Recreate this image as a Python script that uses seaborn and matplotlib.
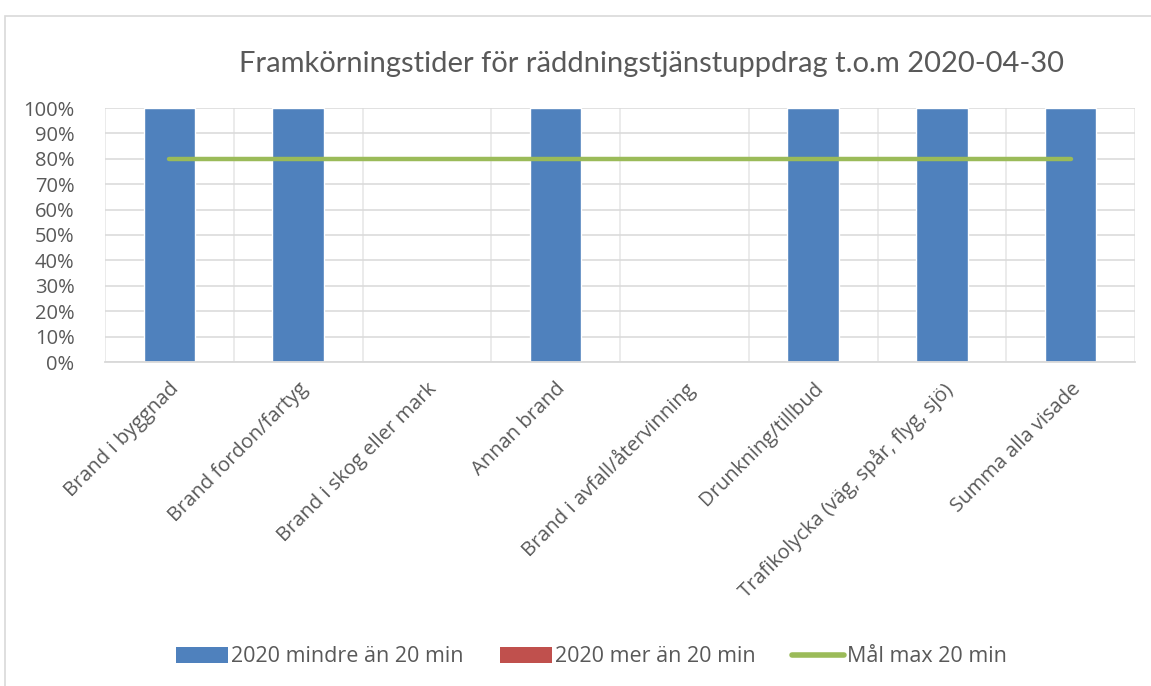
import matplotlib
matplotlib.use('Agg')
import matplotlib.pyplot as plt
import seaborn as sns
import numpy as np
import pandas as pd
from matplotlib.patches import Patch, Rectangle
from matplotlib.lines import Line2D
from matplotlib.ticker import PercentFormatter

# Data
categories = ['Brand i byggnad', 'Brand fordon/fartyg', 'Brand i skog eller mark',
              'Annan brand', 'Brand i avfall/återvinning', 'Drunkning/tillbud',
              'Trafikolycka (väg, spår, flyg, sjö)', 'Summa alla visade']
under_20 = [1.0, 1.0, 0.0, 1.0, 0.0, 1.0, 1.0, 1.0]
over_20 = [0.0, 0.0, 0.0, 0.0, 0.0, 0.0, 0.0, 0.0]
target = [0.8, 0.8, 0.8, 0.8, 0.8, 0.8, 0.8, 0.8]
series_names = ['2020 mindre än 20 min', '2020 mer än 20 min', 'Mål max 20 min']

blue = '#4F81BD'
red = '#C0504D'
green = '#9BBB59'
text_col = '#595959'

sns.set_theme(style='white')
plt.rcParams['font.family'] = ['Open Sans', 'DejaVu Sans']

fig = plt.figure(figsize=(11.51, 6.86), dpi=100)
ax = fig.add_axes([105 / 1151, 1 - 362 / 686, 1030 / 1151, 254 / 686])

# outer chart border
fig.patches.append(Rectangle((5 / 1151, -0.01), 1.0, 1 - 16 / 686 + 0.01,
                             transform=fig.transFigure, fill=False,
                             edgecolor='#D9D9D9', linewidth=1.2, zorder=0))

df = pd.DataFrame({'cat': categories, 'under': under_20, 'over': over_20, 'target': target})

sns.barplot(data=df, x='cat', y='under', color=blue, width=0.40, saturation=1,
            ax=ax, zorder=2)
sns.barplot(data=df, x='cat', y='over', color=red, width=0.40, saturation=1,
            ax=ax, zorder=2)
sns.lineplot(x=np.arange(len(categories)), y=df['target'], color=green,
             linewidth=3.2, solid_capstyle='round', ax=ax, zorder=3)

ax.set_xlim(-0.5, len(categories) - 0.5)
ax.set_ylim(0, 1)
ax.set_yticks(np.arange(0, 1.01, 0.1))
ax.yaxis.set_major_formatter(PercentFormatter(1.0, decimals=0))
ax.set_xlabel('')
ax.set_ylabel('')

# gridlines
ax.set_xticks(np.arange(-0.5, len(categories), 1.0), minor=True)
ax.grid(True, axis='y', which='major', color='#D9D9D9', linewidth=1.1, zorder=0)
ax.grid(True, axis='x', which='minor', color='#E6E6E6', linewidth=1.1, zorder=0)
ax.grid(False, axis='x', which='major')
ax.set_axisbelow(True)

for s in ['top', 'right', 'left']:
    ax.spines[s].set_visible(False)
ax.spines['bottom'].set_color('#D9D9D9')
ax.spines['bottom'].set_linewidth(1.3)

ax.tick_params(axis='both', which='both', length=0)
ax.tick_params(axis='y', labelsize=14.5, labelcolor=text_col, pad=22)
ax.set_xticks(np.arange(len(categories)))
ax.set_xticklabels(categories, rotation=45, ha='right', rotation_mode='anchor',
                   fontsize=14.5, color=text_col)
ax.tick_params(axis='x', pad=12)

fig.text(0.566, 1 - 64 / 686, 'Framkörningstider för räddningstjänstuppdrag t.o.m 2020-04-30',
         ha='center', va='center', fontsize=21, color=text_col, family=['Lato', 'DejaVu Sans'])

handles = [Patch(facecolor=blue, edgecolor='none'),
           Patch(facecolor=red, edgecolor='none'),
           Line2D([0], [0], color=green, linewidth=4, solid_capstyle='round')]
fig.legend(handles, series_names, loc='center', bbox_to_anchor=(0.514, 1 - 657 / 686),
           ncol=3, frameon=False, fontsize=15.5, labelcolor=text_col,
           handlelength=2.4, handleheight=0.8, handletextpad=0.15, columnspacing=1.7)

fig.savefig('out.png', dpi=100)
